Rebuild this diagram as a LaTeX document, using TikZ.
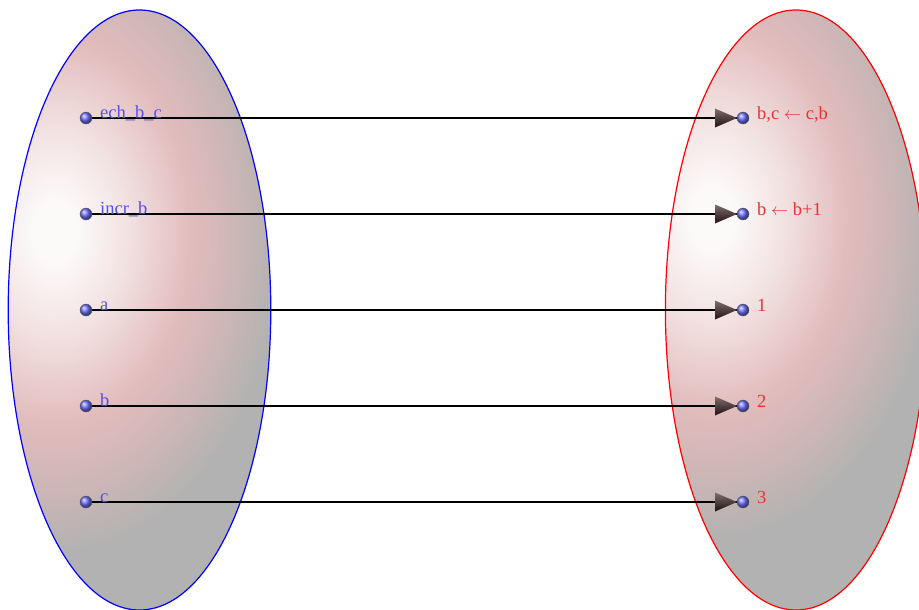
\documentclass[tikz,border=0pt]{standalone}
\usepackage{fontspec}
\setmainfont{Liberation Serif}
\usetikzlibrary{calc}

\definecolor{lblblue}{RGB}{85,80,235}
\definecolor{lblred}{RGB}{235,50,50}
\definecolor{setwhite}{RGB}{252,249,249}
\definecolor{setpale}{RGB}{242,226,226}
\definecolor{setpink}{RGB}{226,188,188}
\definecolor{setmid}{RGB}{205,182,182}
\definecolor{setgray}{RGB}{178,178,178}
\definecolor{ptblue}{RGB}{110,110,255}
\definecolor{tipdark}{RGB}{35,15,15}
\definecolor{tiplight}{RGB}{125,110,110}

% soft glow used inside both sets (path edge sits at 25bp)
\pgfdeclareradialshading{setglow}{\pgfpoint{0bp}{0bp}}{%
  color(0bp)=(setwhite); color(2.5bp)=(setwhite); color(8bp)=(setpale);
  color(15bp)=(setpink); color(20bp)=(setmid); color(25bp)=(setgray);
  color(50bp)=(setgray)}

\tikzset{
  pt/.style={circle, minimum size=12pt, inner sep=0pt, ball color=ptblue,
             draw=black!65, line width=0.4pt},
  conn/.style={black, line width=2.6pt},
  tipshade/.style={top color=tiplight, bottom color=tipdark},
  lbll/.style={text=lblblue, font=\fontsize{18.5}{21}\selectfont,
               inner sep=0pt, anchor=base west},
  lblr/.style={text=lblred, font=\fontsize{18.5}{21}\selectfont,
               inner sep=0pt, anchor=base west},
}
\newcommand{\assignarrow}{{\fontsize{18}{19}\selectfont$\leftarrow$}}

\begin{document}
\begin{tikzpicture}[x=1pt,y=-1pt]
\useasboundingbox (0,0) rectangle (919,610);

% left set
\fill[setgray] (139.5,310) ellipse [x radius=131.3, y radius=300];
\begin{scope}
  \clip (139.5,310) ellipse [x radius=131.3, y radius=300];
  \shade[shading=setglow] (55,232) ellipse [x radius=225, y radius=320];
\end{scope}
\draw[blue, line width=1.2pt] (139.5,310) ellipse [x radius=131.3, y radius=300];

% right set
\fill[setgray] (796,310) ellipse [x radius=130.6, y radius=300];
\begin{scope}
  \clip (796,310) ellipse [x radius=130.6, y radius=300];
  \shade[shading=setglow] (712,218) ellipse [x radius=225, y radius=320];
\end{scope}
\draw[red, line width=1.2pt] (796,310) ellipse [x radius=130.6, y radius=300];

% elements
\foreach \i/\y in {1/118,2/214,3/310,4/406,5/502}{
  \coordinate (lp\i) at (86,\y);
  \coordinate (rp\i) at (743,\y);
}
\foreach \i in {1,...,5}{
  \draw[conn] (lp\i) -- ($(rp\i)+(-6,0)$);
  \shade[tipshade] ($(rp\i)+(-6,0)$) -- ++(-22,-9.5) -- ++(0,19) -- cycle;
}
\foreach \i in {1,...,5}{
  \node[pt] (l\i) at (lp\i) {};
  \node[pt] (r\i) at (rp\i) {};
}

% labels
\node[lbll] (tl1) at (100,118) {ech\_b\_c};
\node[lbll] (tl2) at (100,214) {incr\_b};
\node[lbll] (tl3) at (100,310) {a};
\node[lbll] (tl4) at (100,406) {b};
\node[lbll] (tl5) at (100,502) {c};

\node[lblr] (tr1) at (757,119) {b,c \assignarrow{} c,b};
\node[lblr] (tr2) at (757,215) {b \assignarrow{} b+1};
\node[lblr] (tr3) at (757,311) {1};
\node[lblr] (tr4) at (757,407) {2};
\node[lblr] (tr5) at (757,503) {3};
\end{tikzpicture}
\end{document}
